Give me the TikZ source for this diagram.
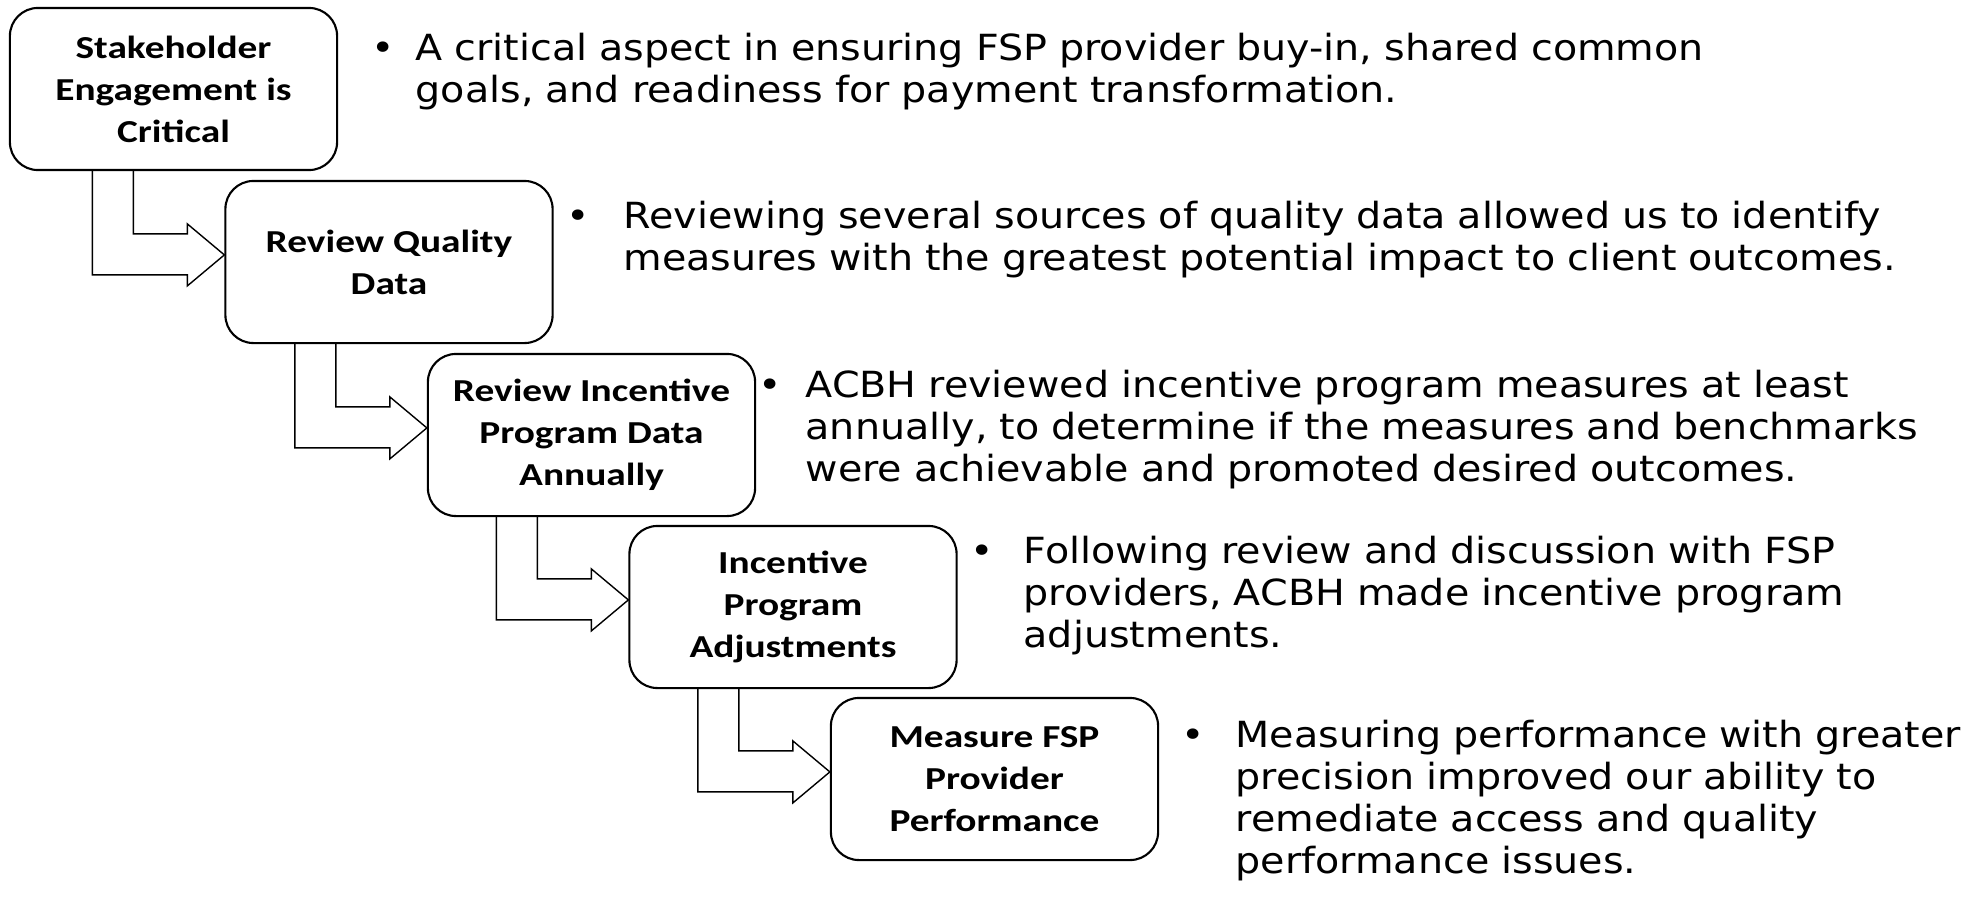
\documentclass[tikz,border=0pt]{standalone}
\usepackage{fontspec}
\setmainfont{DejaVu Sans}[FakeStretch=1.1]
\newfontfamily\boxfont{Carlito}[FakeStretch=1.23]
\usetikzlibrary{calc}
\begin{document}
\begin{tikzpicture}[x=0.01cm,y=-0.01cm,
  stage/.style={draw=black, line width=0.021cm, rounded corners=0.28cm,
    minimum width=3.27cm, minimum height=1.62cm, inner sep=0pt, align=center,
    font=\boxfont\bfseries\fontsize{9.1}{11.95}\selectfont},
  note/.style={anchor=base west, inner sep=0pt, align=left, text width=16cm,
    font=\fontsize{10.24}{11.95}\selectfont},
  dot/.style={anchor=base, inner sep=0pt, font=\fontsize{10.24}{11.95}\selectfont},
  flow/.style={draw=black, line width=0.014cm, line join=miter}]
\useasboundingbox (0,0) rectangle (1982,903);

% process stages
\node[stage] (b1) at (173.5,89)  {Stakeholder\\Engagement is\\Critical};
\node[stage] (b2) at (389,262)   {Review Quality\\Data};
\node[stage] (b3) at (591.5,435) {Review Incentive\\Program Data\\Annually};
\node[stage] (b4) at (793,607)   {Incentive\\Program\\Adjustments};
\node[stage] (b5) at (994.5,779) {Measure FSP\\Provider\\Performance};

% bent block arrows from one stage into the next
\foreach \a/\b in {b1/b2,b2/b3,b3/b4,b4/b5}{
  \coordinate (o\b) at (\b.north west);
  \coordinate (u\b) at ($(o\b)+(-132,0)$);
  \coordinate (v\b) at ($(o\b)+(-91,0)$);
  \draw[flow] (u\b |- \a.south) -- ($(o\b)+(-132,95)$) -- ($(o\b)+(-37,95)$)
    -- ($(o\b)+(-37,106)$) -- ($(o\b)+(0,75)$) -- ($(o\b)+(-37,44)$)
    -- ($(o\b)+(-37,54)$) -- ($(o\b)+(-91,54)$) -- (v\b |- \a.south);
}

% descriptions
\node[dot] (d1) at (383,60) {•};
\node[note] (t1) at (415,60) {A critical aspect in ensuring FSP provider buy-in, shared common\\goals, and readiness for payment transformation.};
\node[dot] (d2) at (578,228) {•};
\node[note] (t2) at (623,228) {Reviewing several sources of quality data allowed us to identify\\measures with the greatest potential impact to client outcomes.};
\node[dot] (d3) at (770,397) {•};
\node[note] (t3) at (805,397) {ACBH reviewed incentive program measures at least\\annually, to determine if the measures and benchmarks\\were achievable and promoted desired outcomes.};
\node[dot] (d4) at (982,563) {•};
\node[note] (t4) at (1023,563) {Following review and discussion with FSP\\providers, ACBH made incentive program\\adjustments.};
\node[dot] (d5) at (1193,747) {•};
\node[note] (t5) at (1235,747) {Measuring performance with greater\\precision improved our ability to\\remediate access and quality\\performance issues.};
\end{tikzpicture}
\end{document}
